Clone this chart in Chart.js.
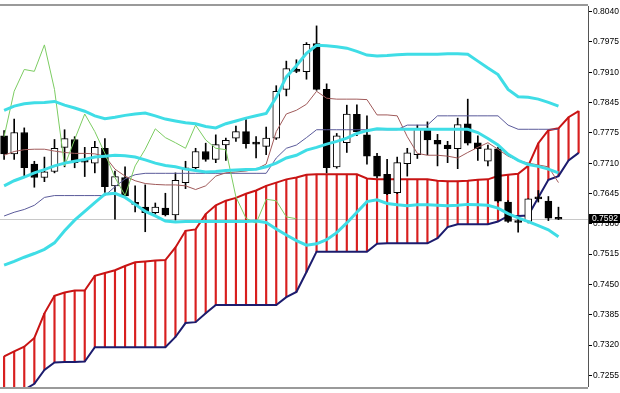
<!DOCTYPE html>
<html lang="en">
<head>
  <meta charset="UTF-8" />
  <title>Ichimoku + Bollinger</title>
  <script src="https://cdn.jsdelivr.net/npm/chart.js"></script>
  <style>
    html, body { margin: 0; padding: 0; background: #fff; }
    #wrap { width: 620px; height: 393px; }
  </style>
</head>
<body>
<div id="wrap"><canvas id="chart" width="620" height="393"></canvas></div>
<script>
  // candles (one per bar)
  const opens = [0.7772,0.7733,0.7779,0.7711,0.7682,0.7695,0.7747,0.7764,0.7719,0.7713,
    0.7745,0.7664,0.7682,0.7624,0.7618,0.7606,0.7616,0.7601,0.7671,0.7703,
    0.7738,0.7721,0.7752,0.7767,0.7781,0.7754,0.7749,0.7767,0.7872,0.7915,
    0.7910,0.7971,0.7872,0.7705,0.7757,0.7818,0.7774,0.7728,0.7689,0.7649,
    0.7712,0.7731,0.7788,0.7762,0.7752,0.7744,0.7798,0.7757,0.7717,0.7744,
    0.7629,0.7585,0.7587,0.7636,0.7631,0.7593];
  const highs = [0.7783,0.7808,0.7789,0.7717,0.7726,0.7764,0.7785,0.7770,0.7747,0.7760,
    0.7766,0.7696,0.7705,0.7664,0.7666,0.7627,0.7648,0.7692,0.7717,0.7745,
    0.7756,0.7774,0.7767,0.7793,0.7807,0.7770,0.7791,0.7880,0.7933,0.7936,
    0.7973,0.8009,0.7884,0.7777,0.7838,0.7839,0.7815,0.7734,0.7721,0.7726,
    0.7745,0.7795,0.7802,0.7775,0.7760,0.7810,0.7851,0.7772,0.7752,0.7747,
    0.7632,0.7592,0.7636,0.7654,0.7641,0.7618];
  const lows = [0.7721,0.7721,0.7682,0.7661,0.7673,0.7692,0.7705,0.7703,0.7684,0.7692,
    0.7650,0.7592,0.7641,0.7608,0.7565,0.7603,0.7599,0.7590,0.7658,0.7700,
    0.7717,0.7714,0.7719,0.7760,0.7745,0.7724,0.7731,0.7764,0.7858,0.7908,
    0.7894,0.7870,0.7692,0.7702,0.7736,0.7772,0.7711,0.7681,0.7645,0.7647,
    0.7685,0.7723,0.7731,0.7707,0.7714,0.7701,0.7752,0.7719,0.7707,0.7628,
    0.7585,0.7564,0.7584,0.7629,0.7589,0.7591];
  const closes = [0.7733,0.7779,0.7703,0.7682,0.7694,0.7745,0.7766,0.7714,0.7715,0.7747,
    0.7662,0.7684,0.7642,0.7624,0.7606,0.7618,0.7601,0.7676,0.7703,0.7738,
    0.7721,0.7753,0.7762,0.7781,0.7755,0.7754,0.7767,0.7868,0.7917,0.7911,
    0.7969,0.7872,0.7703,0.7772,0.7819,0.7781,0.7728,0.7685,0.7647,0.7714,
    0.7735,0.7788,0.7763,0.7754,0.7744,0.7796,0.7756,0.7744,0.7744,0.7631,
    0.7587,0.7585,0.7636,0.7636,0.7594,0.7592];

  // ichimoku
  const tenkan = [0.7730,0.7738,0.7742,0.7743,0.7743,0.7739,0.7736,0.7734,0.7734,0.7733,
    0.7728,0.7700,0.7685,0.7675,0.7669,0.7667,0.7666,0.7666,0.7664,0.7656,
    0.7664,0.7685,0.7692,0.7694,0.7696,0.7700,0.7711,0.7781,0.7819,0.7827,
    0.7840,0.7868,0.7853,0.7851,0.7851,0.7851,0.7850,0.7817,0.7817,0.7815,
    0.7770,0.7734,0.7730,0.7730,0.7728,0.7724,0.7736,0.7747,0.7757,0.7743,
    0.7728,0.7719,0.7713,0.7709,0.7705,0.7671];
  const kijun = [0.7599,0.7607,0.7613,0.7622,0.7639,0.7643,0.7643,0.7643,0.7643,0.7643,
    0.7643,0.7662,0.7679,0.7688,0.7691,0.7691,0.7691,0.7691,0.7691,0.7691,
    0.7691,0.7691,0.7691,0.7691,0.7691,0.7691,0.7691,0.7724,0.7745,0.7752,
    0.7768,0.7785,0.7785,0.7785,0.7785,0.7785,0.7785,0.7785,0.7785,0.7785,
    0.7795,0.7795,0.7795,0.7815,0.7815,0.7815,0.7815,0.7815,0.7815,0.7815,
    0.7795,0.7786,0.7786,0.7786,0.7786,0.7786];
  const chikou = [0.7770,0.7868,0.7915,0.7911,0.7968,0.7872,0.7707,0.7764,0.7819,0.7781,
    0.7734,0.7682,0.7643,0.7707,0.7743,0.7787,0.7768,0.7757,0.7745,0.7795,
    0.7763,0.7745,0.7742,0.7640,0.7594,0.7583,0.7635,0.7632,0.7597,0.7593];
  const spanA = [0.7296,0.7307,0.7317,0.7336,0.7389,0.7427,0.7434,0.7438,0.7438,0.7470,
    0.7476,0.7482,0.7491,0.7499,0.7501,0.7503,0.7504,0.7531,0.7567,0.7570,
    0.7603,0.7622,0.7632,0.7638,0.7647,0.7654,0.7664,0.7671,0.7678,0.7682,
    0.7688,0.7689,0.7689,0.7689,0.7689,0.7689,0.7680,0.7678,0.7678,0.7678,
    0.7678,0.7678,0.7678,0.7675,0.7674,0.7674,0.7675,0.7677,0.7678,0.7685,
    0.7688,0.7690,0.7707,0.7756,0.7784,0.7788,0.7812,0.7825];
  const spanB = [0.7199,0.7211,0.7224,0.7237,0.7267,0.7283,0.7284,0.7284,0.7285,0.7316,
    0.7316,0.7316,0.7316,0.7316,0.7316,0.7316,0.7316,0.7338,0.7368,0.7370,
    0.7389,0.7407,0.7407,0.7407,0.7407,0.7407,0.7407,0.7407,0.7424,0.7435,
    0.7478,0.7522,0.7522,0.7522,0.7522,0.7522,0.7522,0.7539,0.7540,0.7540,
    0.7540,0.7540,0.7540,0.7551,0.7575,0.7581,0.7581,0.7581,0.7581,0.7587,
    0.7599,0.7599,0.7600,0.7639,0.7677,0.7685,0.7719,0.7735];

  // bollinger bands
  const bbUpper = [0.7827,0.7836,0.7841,0.7843,0.7844,0.7846,0.7838,0.7832,0.7825,0.7815,
    0.7809,0.7812,0.7816,0.7819,0.7821,0.7815,0.7808,0.7804,0.7800,0.7798,
    0.7792,0.7789,0.7798,0.7804,0.7810,0.7815,0.7820,0.7855,0.7899,0.7923,
    0.7950,0.7967,0.7966,0.7964,0.7961,0.7954,0.7946,0.7944,0.7945,0.7947,
    0.7948,0.7948,0.7948,0.7948,0.7949,0.7949,0.7948,0.7933,0.7918,0.7904,
    0.7872,0.7856,0.7855,0.7851,0.7844,0.7836];
  const bbMiddle = [0.7664,0.7675,0.7683,0.7692,0.7699,0.7707,0.7713,0.7717,0.7721,0.7726,
    0.7728,0.7730,0.7729,0.7726,0.7720,0.7713,0.7708,0.7705,0.7700,0.7697,
    0.7694,0.7695,0.7697,0.7698,0.7699,0.7700,0.7705,0.7713,0.7724,0.7730,
    0.7741,0.7747,0.7754,0.7760,0.7767,0.7777,0.7783,0.7787,0.7786,0.7786,
    0.7786,0.7786,0.7786,0.7786,0.7786,0.7786,0.7786,0.7779,0.7766,0.7752,
    0.7732,0.7719,0.7710,0.7706,0.7700,0.7692];
  const bbLower = [0.7493,0.7501,0.7510,0.7518,0.7527,0.7541,0.7567,0.7590,0.7609,0.7628,
    0.7646,0.7648,0.7639,0.7624,0.7609,0.7599,0.7588,0.7586,0.7587,0.7587,
    0.7587,0.7587,0.7587,0.7587,0.7587,0.7588,0.7585,0.7571,0.7558,0.7546,
    0.7536,0.7539,0.7548,0.7563,0.7584,0.7607,0.7630,0.7634,0.7626,0.7623,
    0.7621,0.7623,0.7623,0.7622,0.7621,0.7622,0.7624,0.7623,0.7622,0.7616,
    0.7604,0.7595,0.7587,0.7578,0.7569,0.7554];

  const tickLabels = ["0.7255","0.7320","0.7385","0.7450","0.7515","0.7580","0.7645",
    "0.7710","0.7775","0.7845","0.7910","0.7975","0.8040"];

  const pts = arr => arr.map((v, i) => ({ x: i, y: v }));
  const ranges = (a, b) => a.map((v, i) => ({ x: i, y: [a[i], b[i]] }));
  const bodyColors = closes.map((c, i) => (c > opens[i] ? "#ffffff" : "#000000"));
  const lastClose = closes[closes.length - 1];

  function line(label, data, color, width, order) {
    return { type: "line", label, data: pts(data), borderColor: color, borderWidth: width,
      pointRadius: 0, tension: 0, fill: false, order, clip: 0 };
  }

  // bid line, frame and price box
  const mtPlugin = {
    id: "mt",
    beforeDatasetsDraw(chart) {
      const { ctx, chartArea: a, scales: { y } } = chart;
      const py = Math.round(y.getPixelForValue(lastClose)) + 0.5;
      ctx.save();
      ctx.strokeStyle = "#c8c8c8";
      ctx.lineWidth = 1;
      ctx.beginPath();
      ctx.moveTo(a.left, py);
      ctx.lineTo(a.right, py);
      ctx.stroke();
      ctx.restore();
    },
    afterDraw(chart) {
      const { ctx, chartArea: a, scales: { y } } = chart;
      ctx.save();
      ctx.strokeStyle = "#9a9a9a";
      ctx.lineWidth = 2;
      ctx.beginPath();
      ctx.moveTo(0, a.top - 1); ctx.lineTo(a.right, a.top - 1);
      ctx.moveTo(0, a.bottom + 1); ctx.lineTo(a.right, a.bottom + 1);
      ctx.stroke();
      const py = Math.round(y.getPixelForValue(lastClose));
      ctx.fillStyle = "#000";
      ctx.fillRect(a.right + 1, py - 5, 32, 9);
      ctx.fillStyle = "#fff";
      ctx.font = "8.5px 'Liberation Sans', Arial, sans-serif";
      ctx.textBaseline = "middle";
      ctx.fillText(lastClose.toFixed(4), a.right + 4, py);
      ctx.restore();
    }
  };

  const ctx = document.getElementById("chart").getContext("2d");
  new Chart(ctx, {
    type: "bar",
    data: {
      datasets: [
        { type: "bar", label: "Kumo", data: ranges(spanB, spanA), backgroundColor: "#d81f1f",
          barThickness: 1.5, grouped: false, order: 9, clip: 0 },
        line("Senkou A", spanA, "#c81414", 2, 8),
        line("Senkou B", spanB, "#1c1c6e", 2, 8),
        { type: "bar", label: "Wicks", data: ranges(lows, highs), backgroundColor: "#000",
          barThickness: 1, grouped: false, order: 7, clip: 0 },
        { type: "bar", label: "Bodies", data: ranges(opens, closes), backgroundColor: bodyColors,
          borderColor: "#000", borderWidth: 1, borderSkipped: false, barThickness: 7,
          minBarLength: 2, grouped: false, order: 6, clip: 0 },
        line("Tenkan", tenkan, "#a05a5a", 1, 5),
        line("Kijun", kijun, "#5a5a9a", 1, 5),
        line("Chikou", chikou, "#7ccc62", 1, 4),
        line("BB upper", bbUpper, "#3fdde6", 3, 3),
        line("BB middle", bbMiddle, "#3fdde6", 3, 3),
        line("BB lower", bbLower, "#3fdde6", 3, 3)
      ]
    },
    options: {
      responsive: false,
      animation: false,
      devicePixelRatio: 1,
      layout: { padding: { top: 2, bottom: 3, left: 0, right: 0 } },
      plugins: { legend: { display: false }, tooltip: { enabled: false } },
      scales: {
        x: { type: "linear", min: -0.407, max: 57.93, display: false, offset: false },
        y: {
          position: "right",
          min: 0.72303,
          max: 0.80517,
          beginAtZero: false,
          bounds: "data",
          afterFit: s => { s.width = 32; },
          afterBuildTicks: s => {
            s.ticks = tickLabels.map((t, k) => ({ value: 0.7255 + k * (0.8040 - 0.7255) / 12 }));
          },
          ticks: {
            callback: (v, idx) => tickLabels[idx],
            color: "#000",
            padding: 1,
            autoSkip: false,
            font: { family: "'Liberation Sans', Arial, sans-serif", size: 8.5 }
          },
          grid: { display: true, drawOnChartArea: false, drawTicks: true, tickLength: 4, color: "#000" },
          border: { display: true, color: "#555", width: 1 }
        }
      }
    },
    plugins: [mtPlugin]
  });
</script>
</body>
</html>
